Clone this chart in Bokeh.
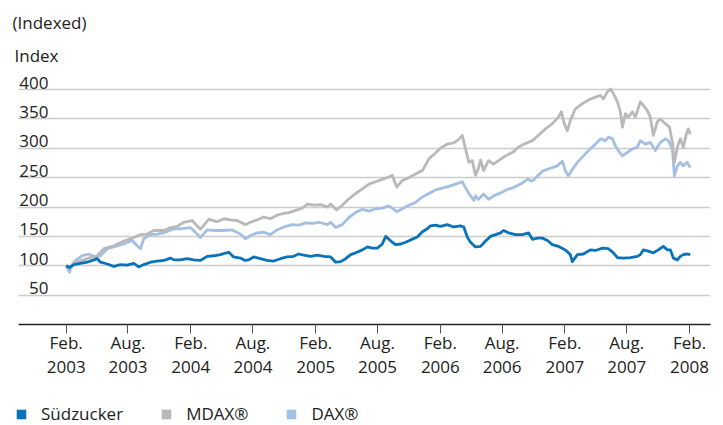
from datetime import datetime, timedelta
from bokeh.plotting import figure
from bokeh.layouts import column
from bokeh.models import FixedTicker, Range1d, Legend, LegendItem
from bokeh.core.properties import value
from bokeh.embed import file_html
from bokeh.resources import INLINE

# ---------------- data (time in decimal years, index values) ----------------
sued_t = [2003.085, 2003.111, 2003.146, 2003.200, 2003.253, 2003.306, 2003.334, 2003.360, 2003.414, 2003.467,
          2003.520, 2003.574, 2003.627, 2003.667, 2003.707, 2003.761, 2003.815, 2003.868, 2003.921, 2003.948,
          2004.002, 2004.055, 2004.108, 2004.162, 2004.216, 2004.269, 2004.322, 2004.389, 2004.429, 2004.483,
          2004.520, 2004.549, 2004.589, 2004.643, 2004.697, 2004.750, 2004.804, 2004.857, 2004.910, 2004.950,
          2004.990, 2005.044, 2005.098, 2005.151, 2005.205, 2005.245, 2005.285, 2005.325, 2005.365, 2005.405,
          2005.459, 2005.499, 2005.539, 2005.579, 2005.619, 2005.646, 2005.672, 2005.699, 2005.726, 2005.766,
          2005.806, 2005.846, 2005.900, 2005.940, 2005.980, 2006.006, 2006.046, 2006.086, 2006.140, 2006.193,
          2006.247, 2006.273, 2006.301, 2006.327, 2006.367, 2006.408, 2006.448, 2006.488, 2006.528, 2006.568,
          2006.592, 2006.632, 2006.688, 2006.744, 2006.792, 2006.824, 2006.864, 2006.904, 2006.944, 2006.984,
          2007.032, 2007.088, 2007.128, 2007.144, 2007.185, 2007.233, 2007.289, 2007.330, 2007.386, 2007.434,
          2007.474, 2007.506, 2007.554, 2007.610, 2007.666, 2007.690, 2007.714, 2007.754, 2007.794, 2007.834,
          2007.874, 2007.907, 2007.931, 2007.955, 2007.987, 2008.011, 2008.035, 2008.067, 2008.091]
sued_v = [100, 97, 102, 104, 106, 110, 112, 106, 103, 99,
          102, 101, 104, 98, 102, 106, 108, 109, 113, 110,
          110, 112, 110, 109, 116, 117, 119, 123, 115, 113,
          109, 110, 115, 112, 109, 108, 112, 115, 116, 120,
          118, 116, 118, 116, 115, 106, 107, 112, 119, 122,
          127, 132, 130, 130, 137, 150, 145, 140, 136, 137,
          140, 144, 149, 158, 163, 168, 169, 167, 170, 166,
          168, 166, 149, 140, 132, 133, 142, 150, 153, 156,
          160, 156, 153, 153, 156, 145, 147, 147, 143, 136,
          133, 127, 119, 107, 119, 120, 127, 126, 130, 129,
          122, 114, 113, 114, 116, 119, 127, 125, 122, 127,
          133, 127, 127, 113, 110, 116, 119, 120, 119]

mdax_t = [2003.085, 2003.119, 2003.160, 2003.226, 2003.294, 2003.334, 2003.387, 2003.467, 2003.547, 2003.627,
          2003.681, 2003.735, 2003.787, 2003.868, 2003.921, 2003.975, 2004.028, 2004.095, 2004.148, 2004.162,
          2004.229, 2004.296, 2004.349, 2004.403, 2004.456, 2004.523, 2004.563, 2004.617, 2004.670, 2004.723,
          2004.777, 2004.830, 2004.884, 2004.937, 2004.978, 2005.018, 2005.071, 2005.124, 2005.178, 2005.205,
          2005.253, 2005.298, 2005.351, 2005.405, 2005.459, 2005.512, 2005.565, 2005.619, 2005.672, 2005.699,
          2005.734, 2005.779, 2005.832, 2005.886, 2005.940, 2005.993, 2006.046, 2006.086, 2006.140, 2006.193,
          2006.233, 2006.261, 2006.287, 2006.314, 2006.341, 2006.367, 2006.391, 2006.408, 2006.432, 2006.472,
          2006.512, 2006.552, 2006.608, 2006.664, 2006.712, 2006.768, 2006.824, 2006.872, 2006.928, 2006.984,
          2007.032, 2007.056, 2007.080, 2007.104, 2007.128, 2007.169, 2007.225, 2007.273, 2007.330, 2007.370,
          2007.394, 2007.426, 2007.450, 2007.474, 2007.506, 2007.530, 2007.546, 2007.570, 2007.594, 2007.626,
          2007.650, 2007.690, 2007.714, 2007.746, 2007.770, 2007.794, 2007.826, 2007.850, 2007.874, 2007.907,
          2007.923, 2007.947, 2007.963, 2007.987, 2008.011, 2008.035, 2008.059, 2008.075, 2008.091]
mdax_v = [100, 98, 106, 110, 115, 117, 129, 134, 142, 148,
          153, 154, 160, 160, 165, 167, 174, 177, 165, 162,
          179, 175, 180, 178, 177, 170, 174, 178, 183, 180,
          186, 189, 191, 195, 198, 205, 203, 204, 200, 205,
          195, 203, 214, 223, 231, 239, 243, 247, 251, 254,
          234, 245, 250, 256, 262, 282, 292, 300, 307, 309,
          315, 322, 299, 276, 279, 254, 266, 280, 262, 279,
          273, 279, 287, 293, 302, 308, 313, 322, 333, 342,
          353, 362, 342, 330, 347, 367, 376, 382, 387, 390,
          384, 396, 401, 393, 379, 362, 336, 359, 353, 362,
          353, 379, 373, 364, 353, 322, 345, 350, 345, 339,
          336, 310, 276, 302, 316, 302, 324, 333, 324]

dax_t = [2003.085, 2003.111, 2003.133, 2003.160, 2003.213, 2003.266, 2003.320, 2003.360, 2003.414, 2003.480,
         2003.547, 2003.614, 2003.654, 2003.681, 2003.707, 2003.761, 2003.815, 2003.881, 2003.948, 2004.015,
         2004.082, 2004.136, 2004.162, 2004.216, 2004.282, 2004.349, 2004.416, 2004.483, 2004.523, 2004.563,
         2004.617, 2004.670, 2004.723, 2004.777, 2004.830, 2004.897, 2004.950, 2005.004, 2005.058, 2005.111,
         2005.178, 2005.205, 2005.245, 2005.298, 2005.351, 2005.405, 2005.459, 2005.512, 2005.565, 2005.619,
         2005.672, 2005.734, 2005.779, 2005.832, 2005.886, 2005.940, 2005.993, 2006.046, 2006.100, 2006.153,
         2006.207, 2006.261, 2006.287, 2006.314, 2006.354, 2006.367, 2006.391, 2006.432, 2006.472, 2006.512,
         2006.568, 2006.624, 2006.672, 2006.728, 2006.784, 2006.824, 2006.864, 2006.912, 2006.968, 2007.024,
         2007.064, 2007.088, 2007.112, 2007.144, 2007.185, 2007.233, 2007.289, 2007.330, 2007.370, 2007.410,
         2007.434, 2007.466, 2007.490, 2007.514, 2007.546, 2007.586, 2007.626, 2007.666, 2007.690, 2007.730,
         2007.770, 2007.810, 2007.850, 2007.891, 2007.915, 2007.947, 2007.963, 2007.987, 2008.011, 2008.035,
         2008.067, 2008.091]
dax_v = [100, 89, 102, 109, 117, 120, 115, 117, 129, 133,
         137, 143, 134, 129, 146, 153, 154, 157, 163, 163,
         165, 154, 148, 161, 160, 160, 161, 154, 146, 151,
         156, 157, 153, 161, 166, 170, 169, 173, 172, 174,
         170, 174, 165, 170, 182, 191, 196, 193, 197, 198,
         202, 192, 197, 203, 208, 217, 223, 229, 232, 235,
         239, 243, 233, 223, 211, 219, 213, 222, 213, 219,
         224, 230, 233, 239, 247, 244, 253, 262, 266, 270,
         278, 262, 253, 264, 276, 287, 299, 307, 316, 313,
         319, 316, 304, 296, 287, 293, 299, 302, 313, 307,
         310, 296, 310, 316, 313, 299, 253, 270, 276, 270,
         276, 267]

y_ticks = [50, 100, 150, 200, 250, 300, 350, 400]
x_tick_dates = ["2003-02-01", "2003-08-01", "2004-02-01", "2004-08-01", "2005-02-01", "2005-08-01",
                "2006-02-01", "2006-08-01", "2007-02-01", "2007-08-01", "2008-02-01"]
x_tick_labels = ["Feb.\n2003", "Aug.\n2003", "Feb.\n2004", "Aug.\n2004", "Feb.\n2005", "Aug.\n2005",
                 "Feb.\n2006", "Aug.\n2006", "Feb.\n2007", "Aug.\n2007", "Feb.\n2008"]
series_names = ["Südzucker", "MDAX®", "DAX®"]
heading_unit = "(Indexed)"
heading_axis = "Index"

# ---------------- styling ----------------
FONT = "Open Sans"
TXT = "#222222"
BLUE = "#0A72B8"
GRAY = "#B9B9B9"
LBLUE = "#A3BFE2"


def to_dt(t):
    y = int(t)
    return datetime(y, 1, 1) + timedelta(days=(t - y) * 365.25)


def parse(d):
    return datetime.strptime(d, "%Y-%m-%d")


EPOCH = datetime(1970, 1, 1)


def ms(d):
    return float((d - EPOCH).total_seconds() * 1000)


tick_dts = [parse(d) for d in x_tick_dates]
tick_ms = [ms(d) for d in tick_dts]

# ---------------- geometry (canvas px; the page itself has no margin) ----------------
W = 723
H_MAIN = 396
H_LEG = 29
frame_l, frame_r = 12, 710     # plotting frame
grid_l = 18                    # where grid lines / axis line begin
t0_px, t1_px = 65.7, 689.0     # first / last tick
px_per_day = (t1_px - t0_px) / (tick_dts[-1] - tick_dts[0]).days
x_start = tick_dts[0] - timedelta(days=(t0_px - frame_l) / px_per_day)
x_grid0 = tick_dts[0] - timedelta(days=(t0_px - grid_l) / px_per_day)
x_end = tick_dts[-1] + timedelta(days=(frame_r - t1_px) / px_per_day)
frame_h = 324
px_per_unit = 235 / 400.0
y_end = frame_h / px_per_unit

# ---------------- main chart ----------------
p = figure(width=W, height=H_MAIN, x_axis_type="datetime", output_backend="svg", toolbar_location=None,
           x_range=Range1d(x_start, x_end), y_range=Range1d(0, y_end), title_location=None,
           min_border_left=frame_l, min_border_right=W - frame_r, min_border_top=0,
           min_border_bottom=H_MAIN - frame_h)
p.outline_line_color = None
p.background_fill_color = "white"
p.border_fill_color = "white"

p.yaxis.visible = False
p.xgrid.visible = False
yg = p.ygrid[0]
yg.ticker = FixedTicker(ticks=y_ticks)
yg.grid_line_color = "#CCCCCC"
yg.grid_line_width = 1.6
if "cross_bounds" in yg.properties():
    yg.cross_bounds = (ms(x_grid0), ms(x_end))

ax = p.xaxis[0]
ax.bounds = (ms(x_grid0), ms(x_end))
ax.ticker = FixedTicker(ticks=tick_ms)
ax.major_label_overrides = {m: lab for m, lab in zip(tick_ms, x_tick_labels)}
ax.axis_line_color = "#222222"
ax.axis_line_width = 1.5
ax.major_tick_line_color = "#555555"
ax.major_tick_line_width = 1
ax.major_tick_out = 9
ax.major_tick_in = 0
ax.minor_tick_line_color = None
ax.major_label_text_font = FONT
ax.major_label_text_font_size = "17px"
ax.major_label_text_color = TXT
ax.major_label_text_line_height = 1.05
ax.major_label_standoff = -3

p.line([to_dt(t) for t in dax_t], dax_v, line_color=LBLUE, line_width=2.8, line_join="round")
p.line([to_dt(t) for t in mdax_t], mdax_v, line_color=GRAY, line_width=2.8, line_join="round")
p.line([to_dt(t) for t in sued_t], sued_v, line_color=BLUE, line_width=2.8, line_join="round")

# y tick labels sitting just above their grid lines
p.text(x=[x_start] * len(y_ticks), y=y_ticks, text=[str(v) for v in y_ticks],
       x_offset=36, y_offset=-7, text_align="right", text_baseline="alphabetic",
       text_font=value(FONT), text_font_size="17px", text_color=TXT)

# headings above the top grid line
p.text(x=[x_start], y=[y_ticks[-1]], text=[heading_axis], x_offset=2, y_offset=-34,
       text_baseline="alphabetic", text_font=value(FONT), text_font_size="17px", text_color=TXT)
p.text(x=[x_start], y=[y_ticks[-1]], text=[heading_unit], x_offset=0, y_offset=-67,
       text_baseline="alphabetic", text_font=value(FONT), text_font_size="17px", text_color=TXT)

# ---------------- legend strip ----------------
q = figure(width=W, height=H_LEG, output_backend="svg", toolbar_location=None, title_location=None,
           x_range=Range1d(0, 1), y_range=Range1d(0, 1), x_axis_location=None, y_axis_location=None,
           min_border=0)
q.outline_line_color = None
q.xgrid.visible = False
q.ygrid.visible = False
q.background_fill_color = "white"
q.border_fill_color = "white"
nan = float("nan")
swatches = []
for col in [BLUE, GRAY, LBLUE]:
    swatches.append(q.quad(left=[nan], right=[nan], top=[nan], bottom=[nan],
                           fill_color=col, line_color=None))
legend = Legend(items=[LegendItem(label=n, renderers=[r], index=0) for n, r in zip(series_names, swatches)],
                orientation="horizontal", glyph_width=12, glyph_height=12, label_standoff=14,
                spacing=37, padding=0, margin=0, border_line_color=None, background_fill_alpha=0,
                label_text_font=FONT, label_text_font_size="17px", label_text_color=TXT,
                location=(3, 0))
q.add_layout(legend)

open("out.html", "w").write(file_html(column(p, q, spacing=0), INLINE))
